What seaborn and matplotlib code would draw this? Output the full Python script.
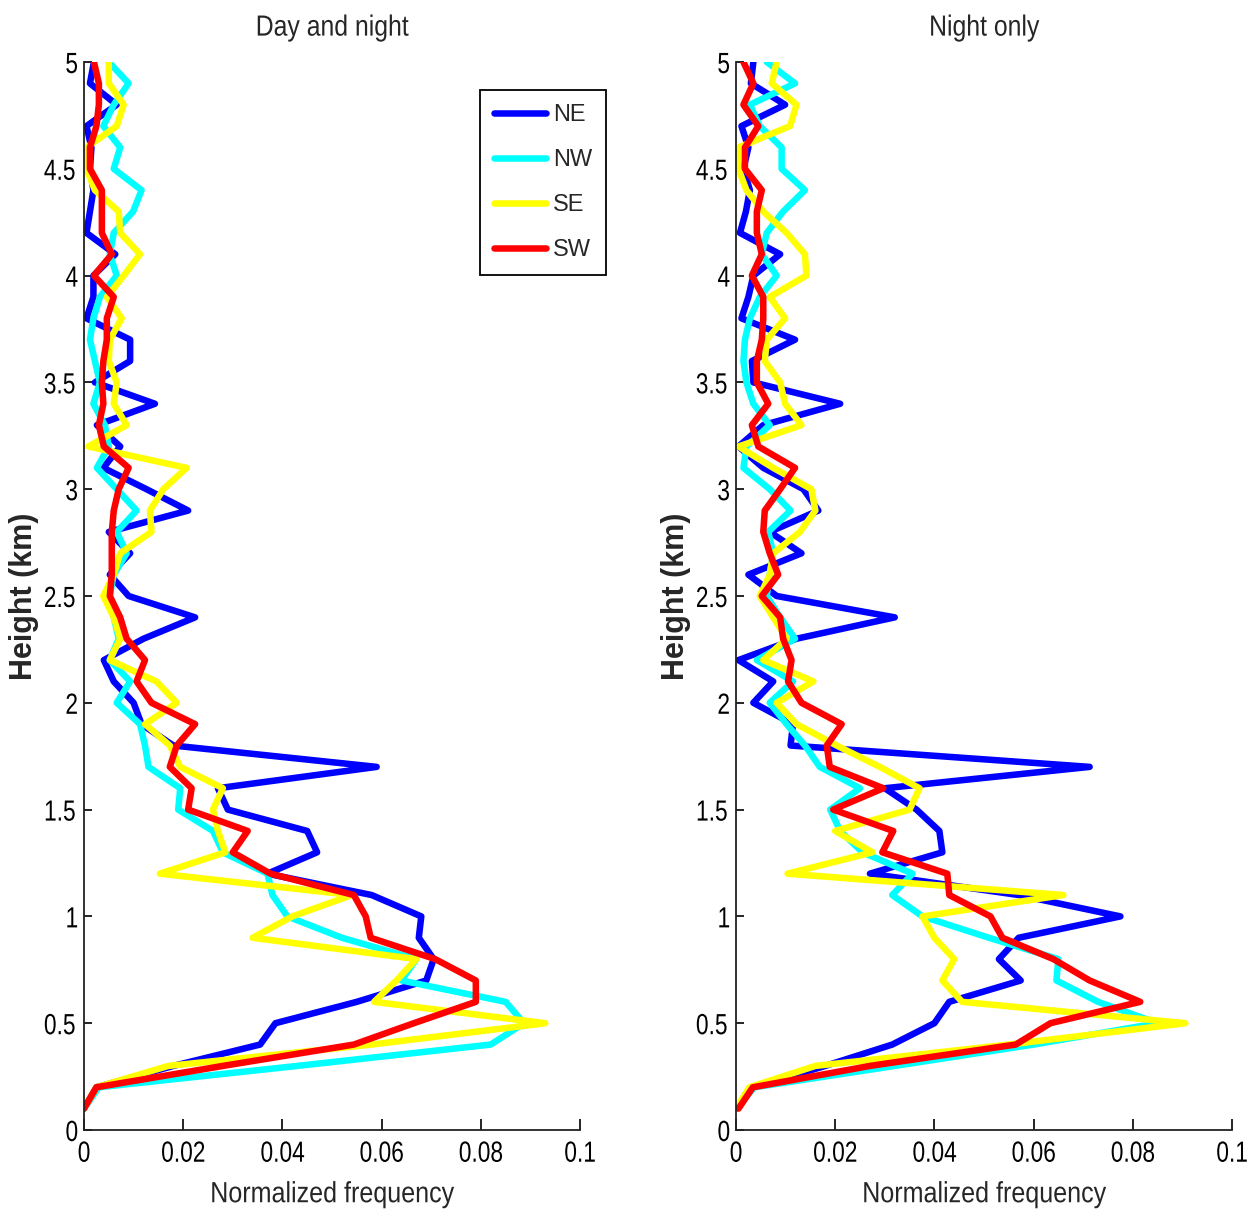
import numpy as np
import pandas as pd
import matplotlib
matplotlib.use('Agg')
import matplotlib.pyplot as plt
import seaborn as sns
from matplotlib.patheffects import AbstractPathEffect
from matplotlib.transforms import Affine2D

# heights of the profile bins, km
heights = [round(0.1 * i, 1) for i in range(1, 51)]
directions = ['NE', 'NW', 'SE', 'SW']
colors = {'NE': '#0000ff', 'NW': '#00ffff', 'SE': '#ffff00', 'SW': '#ff0000'}
panel_titles = ['Day and night', 'Night only']

# Day and night
ne_all = [0.0, 0.0025, 0.018, 0.0355, 0.0386, 0.055, 0.069, 0.0705, 0.0675, 0.068,
          0.058, 0.037, 0.047, 0.045, 0.029, 0.027, 0.059, 0.018, 0.0116, 0.010,
          0.006, 0.004, 0.012, 0.0224, 0.009, 0.0052, 0.0093, 0.005, 0.021, 0.0126,
          0.0039, 0.0073, 0.0026, 0.0143, 0.0022, 0.0093, 0.0093, 0.0005, 0.0019, 0.0019,
          0.0063, 0.0005, 0.0012, 0.0019, 0.0012, 0.0015, 0.0005, 0.0066, 0.0012, 0.002]
nw_all = [0.0, 0.003, 0.043, 0.082, 0.0887, 0.085, 0.064, 0.067, 0.052, 0.041,
          0.038, 0.037, 0.028, 0.026, 0.019, 0.0194, 0.013, 0.0123, 0.0113, 0.0066,
          0.0093, 0.0052, 0.007, 0.006, 0.0052, 0.006, 0.0086, 0.0066, 0.0106, 0.0066,
          0.0026, 0.005, 0.0042, 0.0019, 0.0032, 0.0022, 0.0012, 0.0019, 0.0032, 0.0066,
          0.0052, 0.006, 0.0099, 0.0116, 0.006, 0.0073, 0.0039, 0.006, 0.009, 0.005]
se_all = [0.0, 0.0025, 0.017, 0.058, 0.093, 0.0585, 0.063, 0.067, 0.034, 0.042,
          0.054, 0.0153, 0.0285, 0.027, 0.026, 0.028, 0.0194, 0.0173, 0.0123, 0.0187,
          0.0146, 0.0052, 0.0073, 0.006, 0.0039, 0.006, 0.0073, 0.0136, 0.0133, 0.016,
          0.0207, 0.0009, 0.0086, 0.006, 0.0066, 0.005, 0.0052, 0.0076, 0.0046, 0.008,
          0.0113, 0.0073, 0.007, 0.0022, 0.0005, 0.0005, 0.0066, 0.008, 0.005, 0.005]
sw_all = [0.0, 0.0025, 0.028, 0.0544, 0.0665, 0.079, 0.079, 0.0708, 0.0578, 0.0568,
          0.0544, 0.0376, 0.030, 0.033, 0.021, 0.0217, 0.0173, 0.0187, 0.0224, 0.0136,
          0.0106, 0.0123, 0.0086, 0.0073, 0.0052, 0.0056, 0.0056, 0.0056, 0.006, 0.007,
          0.009, 0.004, 0.003, 0.0039, 0.0036, 0.0039, 0.0046, 0.0046, 0.006, 0.002,
          0.0056, 0.0036, 0.0036, 0.0036, 0.0012, 0.0012, 0.0025, 0.003, 0.003, 0.002]

# Night only
ne_night = [0.0, 0.0035, 0.018, 0.0315, 0.040, 0.043, 0.0574, 0.053, 0.057, 0.0775,
            0.057, 0.027, 0.0416, 0.041, 0.0364, 0.030, 0.0713, 0.011, 0.0115, 0.0035,
            0.0075, 0.0005, 0.0122, 0.032, 0.0082, 0.0025, 0.0132, 0.0068, 0.0166, 0.0136,
            0.0055, 0.0005, 0.0055, 0.021, 0.0035, 0.0032, 0.0119, 0.0011, 0.0025, 0.0035,
            0.0089, 0.0008, 0.002, 0.0028, 0.0015, 0.0025, 0.0011, 0.0099, 0.003, 0.0035]
nw_night = [0.0, 0.0037, 0.032, 0.060, 0.085, 0.073, 0.0646, 0.065, 0.051, 0.0376,
            0.0315, 0.0356, 0.0255, 0.021, 0.019, 0.025, 0.0169, 0.0139, 0.0102, 0.0068,
            0.0115, 0.0042, 0.0119, 0.0089, 0.0062, 0.0068, 0.0075, 0.0065, 0.011, 0.0068,
            0.0015, 0.0021, 0.0068, 0.0035, 0.0021, 0.0015, 0.0018, 0.0028, 0.0048, 0.0082,
            0.0052, 0.0062, 0.0095, 0.0139, 0.0092, 0.0092, 0.0048, 0.0028, 0.0119, 0.0062]
se_night = [0.0, 0.0027, 0.016, 0.055, 0.0906, 0.0456, 0.0416, 0.044, 0.040, 0.0376,
            0.066, 0.0104, 0.0275, 0.020, 0.035, 0.037, 0.029, 0.0203, 0.0122, 0.0082,
            0.0156, 0.0055, 0.0102, 0.0075, 0.0048, 0.0068, 0.0075, 0.0129, 0.016, 0.0152,
            0.0075, 0.0005, 0.0132, 0.0099, 0.0089, 0.0058, 0.0062, 0.0099, 0.0068, 0.0142,
            0.0139, 0.0102, 0.0055, 0.0021, 0.0005, 0.0005, 0.0109, 0.0122, 0.0072, 0.0082]
sw_night = [0.0005, 0.0034, 0.027, 0.0564, 0.0634, 0.0815, 0.0713, 0.064, 0.0537, 0.0513,
            0.043, 0.0426, 0.0295, 0.0317, 0.0196, 0.0297, 0.0189, 0.0183, 0.0213, 0.0132,
            0.0105, 0.0112, 0.0095, 0.0089, 0.0052, 0.0085, 0.0068, 0.0055, 0.0058, 0.0089,
            0.0119, 0.0045, 0.0032, 0.0065, 0.0042, 0.0042, 0.0052, 0.0055, 0.0055, 0.0032,
            0.0052, 0.0042, 0.0042, 0.0052, 0.0018, 0.0018, 0.0045, 0.0015, 0.0035, 0.0015]

x_ticks = [0, 0.02, 0.04, 0.06, 0.08, 0.1]
x_ticklabels = ['0', '0.02', '0.04', '0.06', '0.08', '0.1']
y_ticks = [0, 0.5, 1, 1.5, 2, 2.5, 3, 3.5, 4, 4.5, 5]
y_ticklabels = ['0', '0.5', '1', '1.5', '2', '2.5', '3', '3.5', '4', '4.5', '5']


class Narrow(AbstractPathEffect):
    """squeeze glyphs horizontally, like the old condensed Helvetica"""
    def __init__(self, sx=0.8):
        super().__init__()
        self.sx = sx

    def draw_path(self, renderer, gc, tpath, affine, rgbFace=None):
        ext = tpath.get_extents()
        cx = 0.5 * (ext.x0 + ext.x1)
        t = Affine2D().translate(-cx, 0).scale(self.sx, 1).translate(cx, 0) + affine
        renderer.draw_path(gc, tpath, t, rgbFace)


def to_frame(series):
    rows = []
    for name, vals in zip(directions, series):
        for h, v in zip(heights, vals):
            rows.append({'height': h, 'freq': v, 'dir': name})
    return pd.DataFrame(rows)


panels = [to_frame([ne_all, nw_all, se_all, sw_all]),
          to_frame([ne_night, nw_night, se_night, sw_night])]

sns.set_style('white')
plt.rcParams['font.family'] = ['Liberation Sans', 'DejaVu Sans']
fs = 21

W, H = 1249, 1209
fig = plt.figure(figsize=(W / 100, H / 100), dpi=100)
axes = [fig.add_axes([84 / W, 79 / H, 496 / W, 1068 / H]),
        fig.add_axes([736 / W, 79 / H, 496 / W, 1068 / H])]

for ax, df, title in zip(axes, panels, panel_titles):
    sns.lineplot(data=df, x='freq', y='height', hue='dir', palette=colors,
                 hue_order=directions, sort=False, estimator=None,
                 linewidth=4.7, ax=ax, legend=(ax is axes[0]))
    ax.set_xlim(0, 0.1)
    ax.set_ylim(0, 5)
    ax.set_xticks(x_ticks)
    ax.set_xticklabels(x_ticklabels)
    ax.set_yticks(y_ticks)
    ax.set_yticklabels(y_ticklabels)
    ax.tick_params(axis='x', direction='in', length=8, width=1.2, pad=7,
                   labelsize=fs, bottom=True, colors='black')
    ax.tick_params(axis='y', direction='in', length=6, width=1.2, pad=3,
                   labelsize=fs, left=True, colors='black')
    for lab in ax.get_xticklabels() + ax.get_yticklabels():
        lab.set_path_effects([Narrow(0.78)])
    for side in ['top', 'right']:
        ax.spines[side].set_visible(False)
    for side in ['left', 'bottom']:
        ax.spines[side].set_color('#222222')
        ax.spines[side].set_linewidth(1.3)
    xl = ax.set_xlabel('Normalized frequency', fontsize=fs, labelpad=9)
    xl.set_path_effects([Narrow(0.86)])
    ax.set_ylabel('Height (km)', fontsize=22, fontweight='bold', labelpad=0)
    tt = ax.set_title(title, fontsize=fs, pad=19)
    tt.set_path_effects([Narrow(0.85)])

handles, labels = axes[0].get_legend_handles_labels()
for hd in handles:
    hd.set_linewidth(4.7)
axes[0].legend(handles, labels, loc='upper left',
               bbox_to_anchor=(480 / W, 1 - 90 / H), bbox_transform=fig.transFigure,
               borderaxespad=0, fancybox=False, framealpha=1, edgecolor='black',
               fontsize=17, handlelength=2.2, handletextpad=0.3,
               labelspacing=0.97, borderpad=0.6)
axes[0].get_legend().get_frame().set_linewidth(1.3)

fig.savefig('out.png', dpi=100)
